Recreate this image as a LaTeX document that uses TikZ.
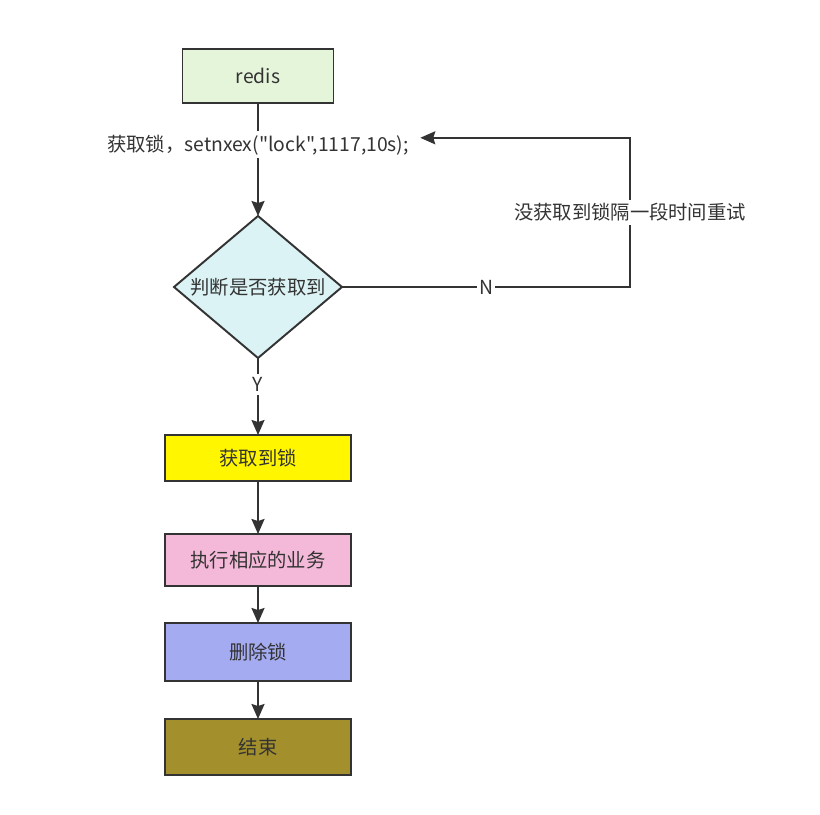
\documentclass[tikz,border=0pt]{standalone}
\usepackage{fontspec}
\setmainfont{Noto Sans CJK SC}[Ligatures=TeXOff]
\definecolor{linegray}{RGB}{51,51,51}
\definecolor{textgray}{RGB}{51,51,51}
\definecolor{redisgreen}{RGB}{229,245,218}
\definecolor{checkcyan}{RGB}{219,243,244}
\definecolor{lockyellow}{RGB}{255,246,0}
\definecolor{workpink}{RGB}{244,185,216}
\definecolor{unlockblue}{RGB}{164,171,240}
\definecolor{endolive}{RGB}{163,143,44}
\usetikzlibrary{positioning,shapes.geometric,arrows.meta}

\begin{document}
\begin{tikzpicture}[
            font=\fontsize{11pt}{13pt}\selectfont,
            box/.style={rectangle, draw=linegray, line width=1.1pt, minimum width=3.72cm,
                       minimum height=1.1cm, outer sep=0pt, align=center, text=textgray},
            decision/.style={diamond, draw=linegray, line width=1.1pt, fill=checkcyan, outer sep=0pt,
                       minimum width=3.36cm, minimum height=2.84cm, inner sep=0pt, text=textgray},
            lbl/.style={fill=white, text=textgray, inner sep=2pt},
            arrow/.style={-{Stealth[length=0.3cm, width=0.26cm, inset=0.04cm]},
                       line width=1.1pt, draw=linegray}
        ]
            \useasboundingbox (0,0) rectangle (16.4,-16.28);

            % Main vertical flow
            \node[box, fill=redisgreen, minimum width=3.02cm, minimum height=1.08cm] (redis) at (5.16,-1.52) {redis};
            \node[decision, below=2.26cm of redis] (check) {\makebox[0pt]{判断是否获取到}};
            \node[box, fill=lockyellow, minimum height=0.92cm, below=1.54cm of check] (gotlock) {获取到锁};
            \node[box, fill=workpink, minimum height=1.04cm, below=1.06cm of gotlock] (business) {执行相应的业务};
            \node[box, fill=unlockblue, minimum height=1.16cm, below=0.74cm of business] (unlock) {删除锁};
            \node[box, fill=endolive, minimum height=1.12cm, below=0.76cm of unlock] (finish) {结束};

            % Arrows with labels
            \draw[arrow] (redis) -- node[lbl, pos=0.37] (lockcmd) {获取锁，setnxex("lock",1117,10s);} (check);
            \draw[arrow] (check) -- node[lbl, pos=0.34] {Y} (gotlock);
            \draw[arrow] (gotlock) -- (business);
            \draw[arrow] (business) -- (unlock);
            \draw[arrow] (unlock) -- (finish);

            % Retry loop
            \coordinate[right=0.14cm of lockcmd.east, yshift=0.14cm] (retryend);
            \draw[arrow] (check.east) -- node[lbl, inner sep=1pt] {N} ++(5.76,0)
                |- node[lbl, pos=0.25] {没获取到锁隔一段时间重试} (retryend);
        \end{tikzpicture}
\end{document}
